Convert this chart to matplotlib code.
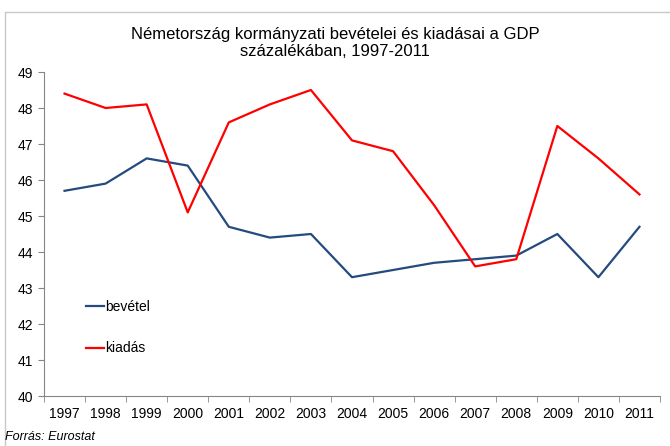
import matplotlib.pyplot as plt
from matplotlib.patches import Rectangle
import numpy as np

plt.rcParams['font.family'] = ['Liberation Sans', 'DejaVu Sans']

# Data
years = ['1997', '1998', '1999', '2000', '2001', '2002', '2003', '2004',
         '2005', '2006', '2007', '2008', '2009', '2010', '2011']
bevetel = [45.7, 45.9, 46.6, 46.4, 44.7, 44.4, 44.5, 43.3,
           43.5, 43.7, 43.8, 43.9, 44.5, 43.3, 44.7]
kiadas = [48.4, 48.0, 48.1, 45.1, 47.6, 48.1, 48.5, 47.1,
          46.8, 45.3, 43.6, 43.8, 47.5, 46.6, 45.6]

fig = plt.figure(figsize=(6.7, 4.46), dpi=100)
ax = fig.add_axes([44 / 670, 1 - 396 / 446, 616 / 670, 324 / 446])

x = np.arange(len(years))
ax.plot(x, bevetel, color='#254a7f', linewidth=1.6, label='bevétel')
ax.plot(x, kiadas, color='#ff0000', linewidth=1.6, label='kiadás')

ax.set_xlim(-0.5, len(years) - 0.5)
ax.set_ylim(40, 49)
ax.set_yticks(range(40, 50))
ax.set_xticks(x)
ax.set_xticklabels(years)
ax.set_xticks(np.arange(-0.5, len(years)), minor=True)
ax.tick_params(axis='x', which='major', length=0, pad=8, labelsize=10)
ax.tick_params(axis='x', which='minor', length=4, color='#868686', direction='out')
ax.tick_params(axis='y', length=4, color='#868686', labelsize=10, pad=4)

for s in ['top', 'right']:
    ax.spines[s].set_visible(False)
for s in ['left', 'bottom']:
    ax.spines[s].set_color('#868686')
    ax.spines[s].set_linewidth(0.8)

ax.legend(loc='upper left', bbox_to_anchor=(0.048, 0.334), frameon=False,
          handlelength=1.3, handletextpad=0.1, labelspacing=1.95, fontsize=10)

fig.text(0.5, 1 - 43 / 446, 'Németország kormányzati bevételei és kiadásai a GDP\nszázalékában, 1997-2011',
         ha='center', va='center', fontsize=12, linespacing=1.15)
fig.text(5 / 670, 1 - 437 / 446, 'Forrás: Eurostat', style='italic', fontsize=9,
         ha='left', va='center')

fig.patches.append(Rectangle((5 / 670, -0.05), 1.0, 1 - 12 / 446 + 0.05,
                             transform=fig.transFigure, fill=False,
                             edgecolor='#c8c8c8', linewidth=1))

fig.savefig('out.png', dpi=100)
